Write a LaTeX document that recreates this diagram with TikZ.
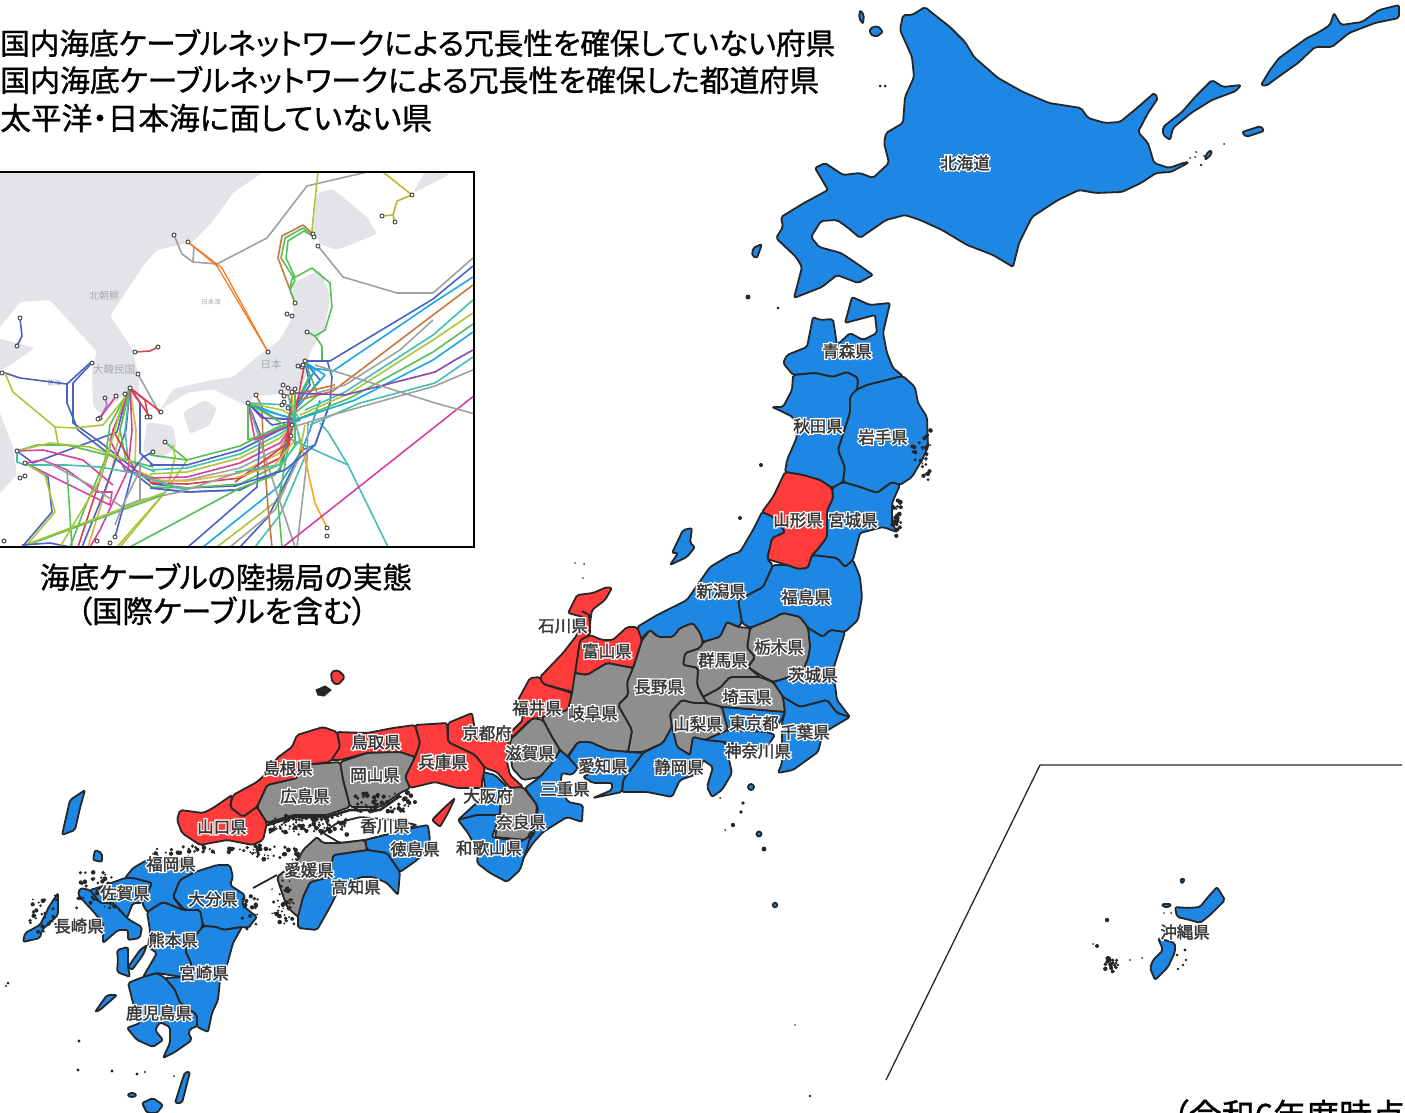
\documentclass[tikz,border=0pt]{standalone}
\usepackage{fontspec}
\usepackage{graphicx}
\setmainfont{Noto Sans CJK JP}
\newfontfamily\jpn[RawFeature=+palt,FakeBold=1]{Noto Sans CJK JP}
\newfontfamily\jplab[FakeBold=2]{Noto Sans CJK JP}
\newfontfamily\jpin{Noto Sans CJK JP}
\newfontfamily\jphalo[FakeBold=18]{Noto Sans CJK JP}
\definecolor{bl}{HTML}{1E86E3}
\definecolor{rd}{HTML}{FF3B3B}
\definecolor{gy}{HTML}{8E8E8E}
\definecolor{cBlue}{HTML}{4A62C4}
\definecolor{cCyan}{HTML}{1EA6E0}
\definecolor{cBrown}{HTML}{C7783A}
\definecolor{cYG}{HTML}{A7C83A}
\definecolor{cGreen}{HTML}{55C057}
\definecolor{cPurple}{HTML}{8445B5}
\definecolor{cTeal}{HTML}{45BFB0}
\definecolor{cGray}{HTML}{A0A0A0}
\definecolor{cPink}{HTML}{D8409E}
\definecolor{cRed}{HTML}{E03A50}
\definecolor{cOrange}{HTML}{F5A623}
\definecolor{cYel}{HTML}{D4B93A}
\definecolor{inland}{HTML}{E3E4E7}
\definecolor{intxt}{HTML}{A4A8AE}
\tikzset{
 x=1pt,y=-1pt,
 landb/.style={draw=black!85,line width=1.8pt,line join=round,rounded corners=2pt,fill=bl},
 landr/.style={draw=black!85,line width=1.8pt,line join=round,rounded corners=2pt,fill=rd},
 landg/.style={draw=black!85,line width=1.8pt,line join=round,rounded corners=2pt,fill=gy},
 landw/.style={draw=black!85,line width=1.8pt,line join=round,rounded corners=2pt,fill=white},
 inl/.style={fill=inland,rounded corners=3pt},
 halo/.style={inner sep=0pt,text=white,font=\jphalo\fontsize{16.5}{18}\selectfont},
 labt/.style={inner sep=0pt,text=black!78,font=\jplab\fontsize{16.5}{18}\selectfont},
 cab/.style={line width=1.6pt,line join=round},
 stn/.style={draw=black!70,fill=white,line width=1pt},
 intext/.style={inner sep=0pt,text=intxt,font=\jpin\fontsize{10}{12}\selectfont},
 title/.style={inner sep=0pt,anchor=west,text=black,font=\jpn\fontsize{31}{34}\selectfont},
 capt/.style={inner sep=0pt,text=black,font=\jpn\fontsize{29}{32}\selectfont},
 divline/.style={draw=black!85,line width=1.3pt,line join=round}
}
\newcommand\lab[3]{\node[halo] at (#1) {#3};\node[labt] (#2) at (#1) {#3};}
\newcommand\blob[3]{\fill[black!85] (#1,#2) circle (#3 pt);}
\newcommand\cluster[6]{% seed x y w h n
 \pgfmathsetseed{#1}%
 \foreach \i in {1,...,#6}{%
  \pgfmathsetmacro{\px}{#2+rnd*#4}\pgfmathsetmacro{\py}{#3+rnd*#5}\pgfmathsetmacro{\pr}{0.9+rnd*1.5}%
  \fill[black!85] (\px,\py) circle (\pr pt);}}
\begin{document}
\begin{tikzpicture}
\useasboundingbox (0,0) rectangle (1405,1113);
\clip (0,0) rectangle (1405,1113);
% ---------- inset ----------
\begin{scope}
\clip (-2,172) rectangle (474,547);
\fill[inl] plot coordinates {(-2,172) (263,172) (233,193) (213,221) (193,242) (157,250) (143,266) (110,316) (132,348) (138,373) (140,402) (127,393) (100,414) (93,406) (92,369) (97,352) (70,322) (50,300) (20,302) (-2,330)} -- cycle;
\fill[inl] plot coordinates {(-2,338) (35,348) (10,365) (-2,372)} -- cycle;
\fill[inl] plot coordinates {(-2,408) (13,447) (17,475) (-2,495)} -- cycle;
\fill[inl] plot coordinates {(317,193) (333,189) (367,217) (377,234) (357,242) (337,250) (320,244) (313,230)} -- cycle;
\fill[inl] plot coordinates {(413,193) (447,176) (450,172) (425,172)} -- cycle;
\fill[inl] plot coordinates {(293,283) (320,270) (330,295) (325,328) (310,352) (308,369) (302,387) (293,393) (267,395) (255,395) (247,406) (213,389) (187,393) (160,410) (173,389) (207,381) (233,377) (257,357) (280,340) (293,316)} -- cycle;
\fill[inl] plot coordinates {(183,412) (205,400) (217,408) (210,425) (190,434)} -- cycle;
\fill[inl] plot coordinates {(147,422) (173,426) (177,447) (160,459) (143,451)} -- cycle;
\node[intext] (nk) at (104,296) {北朝鮮};
\node[intext,font=\jpin\fontsize{6.5}{8}\selectfont] (jsea) at (211,302) {日本海};
\node[intext,font=\jpin\fontsize{10.5}{12}\selectfont] (kr) at (114,370) {大韓民国};
\node[intext,font=\jpin\fontsize{10.5}{12}\selectfont] (jp) at (271,365) {日本};
\node[intext,font=\jpin\fontsize{7}{8}\selectfont] (ys) at (54,383) {黄海};
% north cables
\draw[cab,cGray] plot coordinates {(367,172) (307,186) (267,238) (217,264) (193,262) (182,254) (174,235)};
\draw[cab,cGray] (193,262) -- (194,246);
\draw[cab,cOrange!70!red,line width=1.2pt] plot coordinates {(188,242) (217,266) (268,352)};
\draw[cab,cOrange!70!red,line width=1.2pt] plot coordinates {(188,242) (222,268) (268,352)};
\draw[cab,cYG] plot coordinates {(318,172) (312,230) (313,236)};
\draw[cab,cBrown] plot coordinates {(313,234) (303,225) (282,236) (278,258) (295,303)};
\draw[cab,cGreen] plot coordinates {(313,236) (303,228) (285,238) (281,258) (295,280) (290,290) (295,303)};
\draw[cab,cGreen] plot coordinates {(313,236) (304,231) (288,241) (286,258) (295,277)};
\draw[cab,cGreen] plot coordinates {(290,287) (292,279) (312,268) (330,283) (332,307) (325,330) (315,336) (307,332)};
\draw[cab,cGreen] plot coordinates {(315,336) (322,346) (322,361)};
\draw[cab,cYG!80!orange] plot coordinates {(383,172) (412,195) (397,201) (393,215) (382,216)};
\draw[cab,cYG!80!orange] (393,215) -- (395,222);
\draw[cab,cGray] plot coordinates {(473,258) (433,293) (397,293) (343,277) (318,246)};
\draw[cab,cBlue] plot coordinates {(20,318) (22,336) (17,346)};
\draw[cab,cRed!80!brown] plot coordinates {(135,352) (150,351) (158,347)};
\draw[cab,cGray] plot coordinates {(138,374) (160,414)};
% west
\draw[cab,cBlue] plot coordinates {(2,372) (20,378) (67,384) (90,363)};
\draw[cab,cBlue] plot coordinates {(67,384) (67,403) (78,430) (100,447) (153,488) (187,492) (235,490)};
\draw[cab,cBlue] plot coordinates {(90,365) (73,383) (73,423) (100,442) (153,484) (187,488) (235,486)};
\draw[cab,cYG] plot coordinates {(5,373) (13,392) (55,427) (58,443)};
\draw[cab,cYG] plot coordinates {(55,427) (73,428) (103,425) (127,395)};
\draw[cab,cPurple!70] plot coordinates {(105,398) (107,405) (100,418)};
\draw[cab,cPink] plot coordinates {(116,396) (100,418)};
% fan from Korea
\draw[cab,cBlue] plot coordinates {(130,388) (140,403) (140,453) (153,465)};
\draw[cab,cBlue] plot coordinates {(127,395) (117,432) (33,463) (17,451)};
\draw[cab,cRed] plot coordinates {(130,388) (113,430) (108,455) (78,547)};
\draw[cab,cPink] plot coordinates {(130,388) (110,440) (125,470) (153,478)};
\draw[cab,cYel] plot coordinates {(130,388) (120,430) (112,470) (88,547)};
\draw[cab,cGreen] plot coordinates {(130,388) (110,425) (105,460) (84,510) (70,547)};
\draw[cab,cBlue] plot coordinates {(130,388) (126,430) (105,490) (82,547)};
\draw[cab,cYel] plot coordinates {(130,388) (136,430) (135,470) (160,480)};
\draw[cab,cTeal] plot coordinates {(130,388) (125,430) (128,460) (155,472)};
\draw[cab,cGreen] plot coordinates {(130,388) (120,430) (126,460)};
\draw[cab,cPink] plot coordinates {(130,388) (132,430) (128,470) (100,530) (90,547)};
\draw[cab,cRed] plot coordinates {(130,388) (161,412)};
\draw[cab,cRed] plot coordinates {(130,388) (150,417)};
\draw[cab,cRed] plot coordinates {(130,388) (145,400) (148,417)};
\draw[cab,cRed] plot coordinates {(113,430) (135,470) (155,483)};
\draw[cab,cGreen] plot coordinates {(165,442) (187,460)};
\draw[cab,cYG] plot coordinates {(173,445) (175,457) (167,490) (117,547)};
\draw[cab,cYG] plot coordinates {(187,460) (167,490) (120,547)};
% southern bundle
\foreach \c/\a/\b/\d in {cGreen/455/460/446,cBlue/465/465/450,cTeal/470/468/454,cYG/474/472/458,cPink/478/477/463,cGray/482/480/468,cYel/480/481/473,cRed/483/484/478,cGreen/487/488/484,cBlue/488/492/490}{
 \draw[cab,\c] (150,\a) -- (187,\b) -- (240,\d) -- (280,\d-20) -- (293,425);
}
\draw[cab,cGreen] plot coordinates {(17,451) (37,445) (67,445) (127,460) (153,467)};
\draw[cab,cYG] plot coordinates {(17,451) (50,443) (90,447) (132,462)};
\draw[cab,cPink] plot coordinates {(17,451) (43,450) (83,460) (113,485)};
\draw[cab,cTeal] plot coordinates {(17,451) (17,462) (25,465) (67,465) (100,467) (133,473) (185,490)};
\draw[cab,cPink] plot coordinates {(25,463) (43,460) (67,470) (97,492) (112,492) (110,505) (25,463)};
\draw[cab,cBlue] plot coordinates {(25,463) (48,477) (52,512) (22,547)};
\draw[cab,cYG] plot coordinates {(25,463) (45,475) (55,512) (25,547)};
\draw[cab,cGray] plot coordinates {(43,460) (90,485) (122,507) (140,500) (180,492) (240,472)};
\draw[cab,cGreen] plot coordinates {(67,470) (72,547)};
\draw[cab,cGreen] plot coordinates {(130,547) (240,488)};
\draw[cab,cGreen] plot coordinates {(33,543) (163,495)};
\draw[cab,cYG] plot coordinates {(25,545) (163,493)};
\draw[cab,cBlue] plot coordinates {(115,537) (123,508) (133,470) (143,457) (153,452)};
\draw[cab,cGray] plot coordinates {(115,525) (122,507) (140,470)};
\draw[cab,cGray] plot coordinates {(140,500) (140,460)};
\draw[cab,cBlue] plot coordinates {(22,545) (50,543) (70,547)};
\draw[cab,cYG] plot coordinates {(60,547) (100,480) (125,395)};
% south-east bundle
\draw[cab,cBlue] plot coordinates {(188,547) (257,487) (260,434) (248,403)};
\draw[cab,cCyan] plot coordinates {(203,547) (278,487) (302,450) (310,430) (320,400)};
\draw[cab,cYG] plot coordinates {(217,547) (278,500) (298,460) (305,425)};
\draw[cab,cBlue] plot coordinates {(240,547) (268,517) (302,450) (315,445) (330,403) (332,377) (327,360)};
\draw[cab,cGray] plot coordinates {(230,547) (275,510) (300,455)};
\draw[cab,cTeal] plot coordinates {(255,547) (280,515) (308,450)};
\draw[cab,cBrown] plot coordinates {(256,395) (262,407) (263,443) (268,507) (272,547)};
\draw[cab,cGreen] plot coordinates {(282,547) (278,503) (290,437)};
\draw[cab,cGray] plot coordinates {(295,547) (265,457) (248,403)};
\draw[cab,cGray] plot coordinates {(297,547) (307,460) (308,423)};
\draw[cab,cOrange] plot coordinates {(327,528) (315,503) (307,467) (298,433)};
\draw[cab,cTeal] plot coordinates {(388,547) (348,465) (328,432) (320,423)};
\draw[cab,cTeal] plot coordinates {(348,465) (288,438)};
\draw[cab,cPink] plot coordinates {(283,547) (475,395)};
% hub lines
\foreach \c/\a/\b in {cPurple/262/418,cPink/255/440,cGreen/248/440,cBlue/272/425,cTeal/268/412,cCyan/280/415,cBlue/275/418,cYG/282/410,cGreen/285/425,cTeal/290/405}{
 \draw[cab,\c] (248,403) -- (\a,\b) -- (300,420);
}
\foreach \c/\a/\b in {cBlue/320/380,cCyan/325/375,cGreen/318/395,cCyan/315/370,cBlue/310/385,cGreen/310/375,cRed/288/450}{
 \draw[cab,\c] (305,362) -- (\a,\b) -- (288,418);
}
\draw[cab,cRed] plot coordinates {(292,392) (288,430) (285,445) (235,482)};
\draw[cab,cYel] plot coordinates {(292,392) (295,440) (275,465) (235,478)};
\draw[cab,cGreen] plot coordinates {(295,390) (295,445) (275,475) (235,490)};
\draw[cab,cTeal] plot coordinates {(288,395) (300,440) (280,465) (235,472)};
\draw[cab,cBlue] plot coordinates {(330,403) (315,445) (285,470) (235,486)};
\draw[cab,cBrown] plot coordinates {(286,395) (300,393) (335,385)};
% right fan
\draw[cab,cBlue] plot coordinates {(305,361) (330,361) (433,299) (473,266)};
\draw[cab,cCyan] plot coordinates {(305,367) (333,371) (433,303) (473,277)};
\draw[cab,cBrown] plot coordinates {(300,400) (333,391) (433,315) (473,285)};
\draw[cab,cGray] plot coordinates {(310,395) (345,385) (400,350) (433,320)};
\draw[cab,cTeal] plot coordinates {(305,410) (345,392) (433,335) (473,300)};
\draw[cab,cYG] plot coordinates {(300,415) (350,393) (433,340) (473,313)};
\draw[cab,cGreen] plot coordinates {(295,420) (350,398) (433,352) (473,324)};
\draw[cab,cCyan] plot coordinates {(290,422) (355,400) (433,360) (473,332)};
\draw[cab,cPurple] plot coordinates {(295,393) (345,395) (435,372) (455,360) (473,350)};
\draw[cab,cTeal] plot coordinates {(310,425) (360,403) (435,383) (473,357)};
\draw[cab,cGray] plot coordinates {(290,428) (325,417) (435,386) (475,369)};
\draw[cab,cGray] plot coordinates {(315,365) (435,403) (475,414)};
% stations
\foreach \x/\y in {174/235,188/242,313/234,314/237,318/246,412/195,382/216,395/222,295/303,287/314,292/316,307/332,268/352,20/318,17/346,135/352,158/347,2/373,92/363,138/374,130/388,105/398,116/396,125/394,100/418,98/419,161/412,150/417,147/417,165/442,153/452,17/451,25/463,20/478,25/476,115/537,97/541,110/543,4/541,305/361,302/367,256/395,248/403,283/385,281/392,288/388,284/396,295/389,292/392,284/402,282/405,288/408,292/425,291/436,298/366,303/365,327/528,327/536}{
 \filldraw[stn] (\x,\y) circle (2pt);
}
\end{scope}
\draw[black,line width=1.8pt] (-2,172) rectangle (474,547);
% ---------- text ----------
\node[title] (t1) at (0,43) {\resizebox{835pt}{!}{国内海底ケーブルネットワークによる冗長性を確保していない府県}};
\node[title] (t2) at (0,80) {\resizebox{819pt}{!}{国内海底ケーブルネットワークによる冗長性を確保した都道府県}};
\node[title] (t3) at (0,118) {\resizebox{432pt}{!}{太平洋・日本海に面していない県}};
\node[capt] (c1) at (226,577) {\resizebox{372pt}{!}{海底ケーブルの陸揚局の実態}};
\node[capt] (c2) at (222,611) {\resizebox{290pt}{!}{（国際ケーブルを含む）}};
\node[title,anchor=west,font=\jpn\fontsize{33}{36}\selectfont] (yr) at (1172,1115) {（令和6年度時点};
% ---------- divider ----------
\coordinate (dv1) at (1402,765);\coordinate (dv2) at (1040,765);\coordinate (dv3) at (886,1080);
\draw[divline] (dv1) -- (dv2) -- (dv3);
% ---------- Hokkaido ----------
\draw[landb] plot coordinates {(925,7) (931,12) (950,27) (965,42) (974,57) (998,78) (1023,92) (1049,103) (1081,108) (1088,118) (1105,123) (1120,122) (1137,108) (1154,93) (1158,98) (1148,113) (1138,132) (1148,143) (1154,163) (1169,168) (1186,162) (1188,163) (1171,172) (1156,173) (1141,183) (1122,192) (1096,193) (1079,190) (1058,200) (1032,217) (1019,243) (1013,267) (993,255) (967,245) (942,230) (920,220) (905,215) (886,220) (860,238) (847,227) (837,220) (821,221) (811,237) (819,247) (841,253) (856,263) (873,275) (858,283) (837,275) (822,287) (794,298) (802,267) (796,257) (776,238) (783,227) (781,217) (804,203) (828,190) (815,168) (825,163) (843,175) (860,173) (873,178) (889,163) (884,143) (886,133) (903,123) (905,97) (914,77) (912,57) (900,30) (903,15) (912,15)} -- cycle;
\draw[landb] plot coordinates {(1261,85) (1270,70) (1279,58) (1307,38) (1319,32) (1330,25) (1334,13) (1341,25) (1362,22) (1379,10) (1399,5) (1399,18) (1375,23) (1349,33) (1332,47) (1315,47) (1298,63) (1281,75) (1266,86)} -- cycle;
\draw[landb] plot coordinates {(1163,127) (1182,112) (1195,97) (1212,80) (1223,87) (1241,85) (1236,91) (1212,100) (1191,113) (1173,128) (1170,140) (1163,135)} -- cycle;
\draw[landb] plot coordinates {(1242,132) (1261,126) (1264,131) (1246,137)} -- cycle;
\draw[landb] plot coordinates {(1206,154) (1211,150) (1212,154) (1205,160)} -- cycle;
\draw[landb] plot coordinates {(870,28) (878,26) (883,32) (876,37) (870,34)} -- cycle;
\draw[landb] plot coordinates {(860,10) (864,15) (863,24) (859,18)} -- cycle;
\draw[landb] plot coordinates {(753,248) (762,244) (757,258) (752,256)} -- cycle;
% ---------- Tohoku ----------
\draw[landb] plot coordinates {(783,363) (787,355) (807,347) (813,317) (820,320) (833,319) (837,345) (850,333) (863,340) (877,333) (875,315) (845,323) (852,297) (870,305) (890,303) (883,333) (887,353) (893,368) (903,376) (887,380) (867,385) (857,390) (858,378) (847,372) (833,377) (815,373) (793,375)} -- cycle;
\draw[landb] plot coordinates {(793,375) (815,373) (833,377) (847,372) (858,378) (857,390) (850,397) (850,413) (838,450) (845,467) (843,482) (832,488) (820,480) (803,475) (785,472) (787,460) (797,437) (793,417) (783,412) (772,407) (783,407) (792,390)} -- cycle;
\draw[landb] plot coordinates {(856,390) (867,385) (887,380) (903,376) (915,387) (918,403) (927,417) (928,447) (922,460) (912,477) (900,485) (892,482) (877,493) (860,487) (843,482) (845,467) (838,450) (850,413) (850,397)} -- cycle;
\draw[landb] plot coordinates {(843,482) (860,487) (877,493) (892,482) (900,485) (892,503) (892,523) (897,532) (883,527) (860,533) (853,560) (845,567) (837,558) (812,555) (817,550) (827,537) (827,510) (833,498) (832,488)} -- cycle;
\draw[landr] plot coordinates {(785,472) (803,475) (820,480) (832,488) (833,498) (827,510) (827,537) (817,550) (812,555) (808,568) (798,569) (787,565) (767,559) (772,538) (785,532) (773,517) (762,512) (773,497)} -- cycle;
\draw[landb] plot coordinates {(773,565) (787,565) (798,569) (808,568) (812,555) (837,558) (845,567) (853,560) (860,577) (862,597) (858,620) (845,632) (830,630) (823,637) (808,628) (800,617) (783,613) (770,620) (750,628) (742,623) (738,600) (763,587)} -- cycle;
\draw[landb] plot coordinates {(762,512) (773,517) (785,532) (772,538) (767,559) (773,565) (763,587) (738,600) (742,623) (738,627) (727,622) (720,637) (703,642) (700,633) (693,623) (680,628) (673,637) (658,637) (650,630) (640,640) (637,627) (657,615) (687,600) (710,567) (730,555) (740,552) (753,530)} -- cycle;
\draw[landb] plot coordinates {(672,553) (683,530) (692,528) (690,543) (695,547) (687,557) (670,565) (678,553)} -- cycle;
\blob{740}{518}{2}\blob{761}{465}{2}\blob{748}{297}{2.5}\blob{778}{308}{1.5}
% ---------- Kanto/Chubu ----------
\draw[landb] plot coordinates {(845,632) (830,630) (823,637) (808,628) (810,647) (808,658) (802,673) (773,682) (783,697) (800,707) (827,700) (837,713) (850,717) (837,700) (833,670)} -- cycle;
\draw[landg] plot coordinates {(808,628) (800,617) (783,613) (770,620) (750,628) (747,648) (755,657) (748,667) (760,675) (773,682) (802,673) (808,658) (810,647)} -- cycle;
\draw[landg] plot coordinates {(750,628) (738,627) (727,622) (720,637) (703,642) (700,648) (685,653) (683,665) (698,668) (697,685) (703,697) (720,688) (730,677) (760,677) (748,667) (755,657) (747,648)} -- cycle;
\draw[landg] plot coordinates {(703,697) (720,688) (730,677) (760,677) (773,682) (783,697) (785,712) (760,710) (722,707) (707,703)} -- cycle;
\draw[landg] plot coordinates {(650,630) (658,637) (673,637) (680,628) (693,623) (700,633) (703,642) (700,648) (685,653) (683,665) (698,668) (697,685) (703,697) (707,703) (693,703) (682,700) (670,713) (672,727) (663,743) (643,752) (628,752) (632,730) (618,705) (628,695) (627,682) (633,668) (642,640)} -- cycle;
\draw[landr] plot coordinates {(637,627) (627,627) (613,640) (602,640) (590,635) (580,640) (575,673) (587,675) (607,663) (633,668) (642,640)} -- cycle;
\draw[landr] plot coordinates {(612,588) (607,587) (593,593) (577,595) (568,613) (583,617) (577,635) (563,653) (540,677) (543,684) (573,692) (575,673) (580,640) (590,635) (590,623) (592,610) (605,600)} -- cycle;
\draw[landr] plot coordinates {(540,677) (530,678) (518,700) (523,720) (510,733) (510,740) (530,720) (542,717) (568,710) (572,693) (543,684)} -- cycle;
\draw[landg] plot coordinates {(575,673) (587,675) (607,663) (633,668) (627,682) (628,695) (618,705) (632,730) (628,752) (608,750) (590,742) (578,742) (567,757) (560,750) (552,737) (543,720) (542,717) (568,710) (572,693)} -- cycle;
\draw[landg] plot coordinates {(682,700) (693,703) (707,703) (722,707) (728,730) (705,740) (693,737) (690,755) (677,747) (672,727) (670,713)} -- cycle;
\draw[landb] plot coordinates {(722,707) (760,710) (785,712) (780,723) (767,732) (728,730)} -- cycle;
\draw[landb] plot coordinates {(728,730) (767,732) (775,735) (767,747) (753,750) (725,742) (705,740)} -- cycle;
\draw[landb] plot coordinates {(783,697) (800,707) (827,700) (837,713) (850,717) (823,733) (818,752) (793,770) (778,773) (782,763) (782,733) (782,723) (785,712)} -- cycle;
\draw[landb] plot coordinates {(663,743) (672,727) (677,747) (690,755) (693,737) (705,740) (725,742) (732,773) (722,790) (712,797) (707,787) (713,767) (703,760) (700,773) (680,780) (672,797) (647,792) (622,792) (623,780) (643,753)} -- cycle;
\draw[landb] plot coordinates {(578,742) (590,742) (608,750) (628,752) (643,753) (623,780) (622,792) (593,798) (612,790) (612,783) (593,783) (583,777) (592,772) (578,768) (568,757)} -- cycle;
\draw[landb] plot coordinates {(568,757) (578,768) (572,775) (562,773) (560,787) (568,802) (583,805) (582,822) (567,817) (543,832) (533,843) (522,860) (528,842) (535,832) (538,807) (525,788) (540,777) (552,763) (560,750)} -- cycle;
\draw[landg] plot coordinates {(543,720) (533,718) (510,740) (512,768) (523,780) (540,777) (552,763) (560,750) (552,737)} -- cycle;
% ---------- Kinki ----------
\draw[landb] plot coordinates {(483,772) (495,775) (507,787) (500,807) (500,815) (477,815) (458,820) (472,807) (480,800) (485,787)} -- cycle;
\draw[landr] plot coordinates {(472,713) (448,723) (448,742) (475,755) (485,768) (497,772) (510,788) (523,787) (510,775) (507,762) (508,743) (513,735) (507,740) (475,730)} -- cycle;
\draw[landr] plot coordinates {(415,725) (447,723) (448,742) (475,755) (485,768) (482,780) (482,788) (457,788) (435,782) (410,788) (405,777) (415,757) (420,743)} -- cycle;
\draw[landr] plot coordinates {(455,798) (448,813) (440,827) (432,820) (445,807)} -- cycle;
\draw[landg] plot coordinates {(510,788) (523,787) (537,805) (535,825) (547,823) (530,832) (527,840) (495,837) (500,813) (500,807)} -- cycle;
\draw[landb] plot coordinates {(458,820) (477,815) (500,815) (492,837) (520,842) (535,833) (532,832) (520,870) (507,882) (490,873) (477,863) (478,852) (468,833)} -- cycle;
% ---------- Chugoku ----------
\draw[landr] plot coordinates {(415,725) (420,743) (415,757) (400,752) (367,753) (340,760) (330,760) (340,747) (337,732) (367,733) (393,728)} -- cycle;
\draw[landg] plot coordinates {(415,757) (400,752) (367,753) (340,762) (343,780) (350,807) (380,807) (400,793) (410,788) (405,777)} -- cycle;
\draw[landg] plot coordinates {(340,762) (303,765) (297,778) (267,785) (257,807) (267,823) (293,815) (327,815) (350,807) (343,780)} -- cycle;
\draw[landr] plot coordinates {(337,732) (323,727) (297,735) (292,747) (277,758) (270,770) (257,782) (233,795) (230,807) (243,817) (257,807) (267,785) (297,778) (303,765) (330,762) (340,747)} -- cycle;
\draw[landr] plot coordinates {(232,795) (213,808) (203,813) (180,810) (177,820) (182,833) (200,845) (227,840) (253,845) (263,840) (267,823) (257,807) (243,817) (230,807)} -- cycle;
\draw[landr] plot coordinates {(331,672) (338,670) (345,677) (338,685) (332,682)} -- cycle;
\draw[black!85,fill=black!85,line width=1pt] plot coordinates {(316,690) (325,686) (331,690) (324,696) (318,695)} -- cycle;
% ---------- Shikoku ----------
\draw[landw] plot coordinates {(323,833) (337,823) (360,817) (393,820) (417,825) (393,833) (365,840) (340,843)} -- cycle;
\draw[landb] plot coordinates {(428,825) (417,827) (393,833) (365,840) (367,850) (387,853) (400,872) (413,863) (423,855) (430,840)} -- cycle;
\draw[landb] plot coordinates {(367,850) (333,855) (330,877) (310,882) (303,897) (298,913) (298,928) (317,930) (330,907) (337,893) (360,877) (373,877) (387,883) (398,895) (400,872) (387,853)} -- cycle;
\draw[landg] plot coordinates {(317,837) (303,850) (298,860) (277,877) (280,887) (287,907) (298,917) (303,897) (310,882) (330,877) (333,855) (367,850) (365,840) (340,843) (323,843)} -- cycle;
\draw[black!85,line width=1.8pt] (277,875) -- (253,888);
% ---------- Kyushu ----------
\draw[landb] plot coordinates {(195,872) (180,880) (173,897) (183,910) (163,902) (147,912) (142,903) (152,883) (133,878) (125,878) (133,868) (147,860) (167,858) (190,863)} -- cycle;
\draw[landb] plot coordinates {(125,878) (100,887) (90,890) (100,903) (113,903) (127,918) (133,903) (142,903) (152,883) (133,878)} -- cycle;
\draw[landb] plot coordinates {(90,890) (80,888) (78,895) (92,910) (103,923) (103,943) (118,930) (128,930) (128,940) (140,938) (142,927) (133,922) (127,918) (113,903) (100,903)} -- cycle;
\draw[landb] plot coordinates {(180,880) (195,872) (217,865) (230,865) (233,877) (230,885) (245,895) (242,905) (257,917) (248,928) (242,927) (223,930) (217,927) (203,926) (200,910) (185,910) (173,897)} -- cycle;
\draw[landb] plot coordinates {(147,912) (163,902) (183,910) (200,910) (203,926) (185,950) (192,965) (182,977) (157,973) (143,977) (157,953) (148,947) (150,930)} -- cycle;
\draw[landb] plot coordinates {(203,926) (217,927) (223,930) (242,927) (233,943) (227,965) (220,980) (218,1000) (212,1013) (208,1032) (197,1027) (197,1015) (180,1003) (175,990) (165,978) (182,977) (192,965) (185,950)} -- cycle;
\draw[landb] plot coordinates {(143,977) (157,973) (165,978) (175,990) (180,1003) (197,1015) (197,1027) (193,1027) (188,1032) (192,1040) (175,1052) (163,1058) (170,1043) (170,1027) (160,1022) (155,1030) (163,1040) (153,1047) (137,1040) (127,1028) (140,1023) (133,1003) (128,983)} -- cycle;
\draw[landb] plot coordinates {(117,950) (128,947) (128,967) (130,977) (117,972) (118,960)} -- cycle;
\draw[landb] plot coordinates {(128,967) (140,950) (147,945) (143,955) (132,970)} -- cycle;
\draw[landb] plot coordinates {(95,1012) (107,995) (117,995) (100,1010)} -- cycle;
\draw[landb] plot coordinates {(185,1072) (190,1072) (182,1103) (175,1103) (180,1087)} -- cycle;
\draw[landb] plot coordinates {(142,1103) (153,1098) (163,1105) (157,1113) (147,1113)} -- cycle;
\draw[landb] plot coordinates {(25,933) (23,942) (40,938) (42,930) (58,915) (58,893) (50,905) (40,925)} -- cycle;
\draw[landb] plot coordinates {(95,850) (102,853) (102,862) (93,860)} -- cycle;
\draw[landb] plot coordinates {(62,835) (70,800) (85,790) (80,808) (75,830)} -- cycle;
% ---------- Okinawa ----------
\draw[landb] plot coordinates {(1217,887) (1225,900) (1210,915) (1200,923) (1190,920) (1177,917) (1175,907) (1188,908) (1200,907) (1208,897)} -- cycle;
\draw[landb] plot coordinates {(1158,938) (1175,943) (1175,952) (1168,967) (1155,980) (1150,968) (1153,960) (1163,950)} -- cycle;
\draw[landb] plot coordinates {(1162,904) (1171,904) (1170,907) (1163,907)} -- cycle;
\draw[landb] plot coordinates {(1180,879) (1185,879) (1182,884)} -- cycle;
% ---------- small islands ----------
\foreach \x/\y/\r in {1107/920/2.2,1093/944/1,1097/946/2,1118/965/1.3,1130/960/1,1142/958/1,1186/960/1.4,1183/965/1.3,1178/969/1.3,1185/950/1.6,1177/955/1.5,1171/913/1,1164/913/.8,
 743/803/1.9,741/812/1.9,733/825/2.2,725/830/1,720/798/1,1163/172/1,1201/165/1.3,1195/157/1,1196/152/1,1224/144/1,880/86/1.5,885/86/1.5,1204/156/1,1190/158/1,
 8/983/1.5,6/986/1.2,79/1041/1.7,78/1070/1.7,112/1071/1.7,137/1074/1.7,145/1072/1.2,174/1076/1,810/1096/1.3,795/1025/.8,584/564/1,583/578/.8,575/563/.8}{
 \fill[black!85] (\x,\y) circle (\r pt);
}
\draw[landb] (751,787) circle (3pt);
\draw[landb] (759,834) circle (2.5pt);
\draw[black!85,fill=black!85] (764,849) circle (2.2pt);
\draw[landb] (775,905) circle (2.2pt);
\draw[landb] (132,1095) ellipse (4pt and 2pt);
\cluster{11}{270}{815}{78}{20}{110}
\cluster{12}{355}{792}{58}{20}{65}
\cluster{13}{250}{846}{48}{14}{30}
\cluster{14}{272}{880}{22}{44}{40}
\cluster{15}{76}{872}{40}{36}{40}
\cluster{16}{28}{895}{34}{38}{30}
\cluster{17}{242}{895}{16}{35}{22}
\cluster{18}{146}{848}{60}{10}{14}
\cluster{19}{178}{845}{85}{8}{28}
\cluster{20}{892}{500}{9}{36}{30}
\cluster{21}{912}{430}{20}{50}{36}
\cluster{22}{1104}{958}{14}{14}{24}
\cluster{23}{405}{795}{10}{10}{6}
\draw[black!85,line width=2.6pt,line join=round] plot coordinates {(267,825) (293,817) (327,817) (350,810) (380,810) (400,796)};
\draw[black!85,line width=1.8pt] plot coordinates {(582,611) (589,615) (590,625)};
% ---------- labels ----------
\lab{965,163}{hokkaido}{北海道}
\lab{847,351}{aomori}{青森県}
\lab{818,426}{akita}{秋田県}
\lab{883,437}{iwate}{岩手県}
\lab{798,520}{yamagata}{山形県}
\lab{853,520}{miyagi}{宮城県}
\lab{721,591}{niigata}{新潟県}
\lab{806,597}{fukushima}{福島県}
\lab{779,647}{tochigi}{栃木県}
\lab{723,660}{gunma}{群馬県}
\lab{813,675}{ibaraki}{茨城県}
\lab{747,697}{saitama}{埼玉県}
\lab{659,687}{nagano}{長野県}
\lab{607,651}{toyama}{富山県}
\lab{563,626}{ishikawa}{石川県}
\lab{537,708}{fukui}{福井県}
\lab{593,713}{gifu}{岐阜県}
\lab{698,724}{yamanashi}{山梨県}
\lab{754,723}{tokyo}{東京都}
\lab{805,732}{chiba}{千葉県}
\lab{758,751}{kanagawa}{神奈川県}
\lab{679,767}{shizuoka}{静岡県}
\lab{603,766}{aichi}{愛知県}
\lab{565,789}{mie}{三重県}
\lab{530,753}{shiga}{滋賀県}
\lab{487,733}{kyoto}{京都府}
\lab{488,796}{osaka}{大阪府}
\lab{521,822}{nara}{奈良県}
\lab{489,848}{wakayama}{和歌山県}
\lab{443,762}{hyogo}{兵庫県}
\lab{376,742}{tottori}{鳥取県}
\lab{375,775}{okayama}{岡山県}
\lab{288,768}{shimane}{島根県}
\lab{305,796}{hiroshima}{広島県}
\lab{222,827}{yamaguchi}{山口県}
\lab{385,826}{kagawa}{香川県}
\lab{415,849}{tokushima}{徳島県}
\lab{309,870}{ehime}{愛媛県}
\lab{356,887}{kochi}{高知県}
\lab{171,864}{fukuoka}{福岡県}
\lab{125,893}{saga}{佐賀県}
\lab{213,899}{oita}{大分県}
\lab{79,926}{nagasaki}{長崎県}
\lab{173,940}{kumamoto}{熊本県}
\lab{204,973}{miyazaki}{宮崎県}
\lab{159,1013}{kagoshima}{鹿児島県}
\lab{1185,932}{okinawa}{沖縄県}
\end{tikzpicture}
\end{document}
